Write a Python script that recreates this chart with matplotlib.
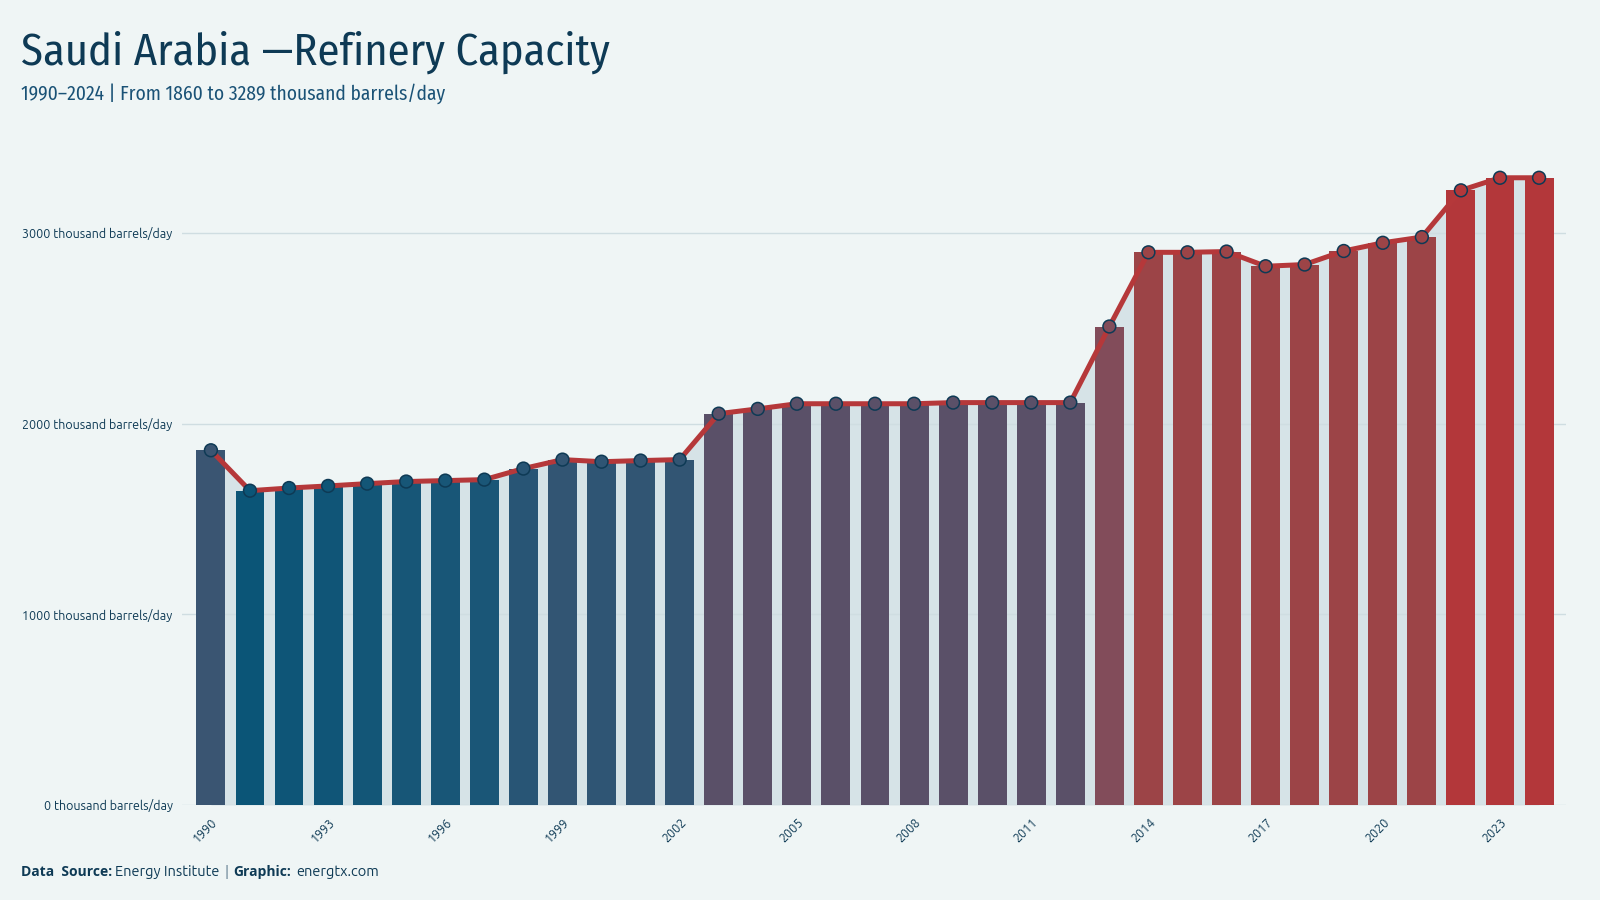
import numpy as np
import matplotlib
matplotlib.use('Agg')
import matplotlib.pyplot as plt
from matplotlib.colors import LinearSegmentedColormap, Normalize

# refinery capacity, thousand barrels/day
years = list(range(1990, 2025))
capacity = [1860, 1648, 1662, 1673, 1685, 1696, 1701, 1706, 1764, 1811,
            1800, 1806, 1811, 2052, 2077, 2104, 2104, 2104, 2104, 2110,
            2110, 2110, 2110, 2509, 2898, 2898, 2902, 2825, 2834, 2905,
            2948, 2978, 3223, 3289, 3289]
yticks = [0, 1000, 2000, 3000]
title = 'Saudi Arabia \u2014Refinery Capacity'
subtitle = '1990\u20132024 | From 1860 to 3289 thousand barrels/day'

bg = '#eff5f5'
navy = '#0e3a55'
red = '#b5383a'
head = ['Fira Sans Condensed', 'DejaVu Sans']
body = ['Ubuntu', 'DejaVu Sans']
bold = ['Open Sans', 'DejaVu Sans']

# value -> colour scale (blue for low, red for high)
lo, hi = min(capacity), max(capacity)
stops = [(1648, '#0b5577'), (1706, '#1a5677'), (1811, '#335573'),
         (1860, '#3a5572'), (2052, '#5a5068'), (2110, '#5a5068'),
         (2509, '#824c5a'), (2825, '#9c4447'), (2978, '#9c4447'),
         (3223, '#b3373a'), (3289, '#b3373a')]
cmap = LinearSegmentedColormap.from_list(
    'cap', [((v - lo) / (hi - lo), c) for v, c in stops])
norm = Normalize(lo, hi)
colors = [cmap(norm(v)) for v in capacity]

fig = plt.figure(figsize=(16, 9), dpi=100, facecolor=bg)
ax = fig.add_axes([0.114, 0.1056, 0.865, 0.731])
ax.set_facecolor(bg)

x = np.arange(len(years))
ax.fill_between(x, 0, capacity, color='#d6e3e7', lw=0, zorder=1)
ax.bar(x, capacity, width=0.74, color=colors, zorder=3)
ax.plot(x, capacity, color=red, lw=3.6, zorder=4, solid_joinstyle='round')
ax.scatter(x, capacity, s=85, c=colors, edgecolors=navy, linewidths=1.1, zorder=5)

ax.set_xlim(-0.73, len(years) - 1 + 0.7)
ax.set_ylim(0, 3450)
ax.set_yticks(yticks)
ax.set_yticklabels([f'{t} thousand barrels/day' for t in yticks])
ax.grid(axis='y', color='#cfdde1', lw=1, zorder=2)
ax.set_axisbelow(False)

ax.set_xticks(x[::3])
ax.set_xticklabels([str(y) for y in years[::3]], rotation=45, ha='right',
                   rotation_mode='anchor')
ax.tick_params(axis='both', length=0, labelcolor=navy, labelsize=9)
ax.tick_params(axis='y', pad=7)
ax.tick_params(axis='x', pad=8)
for lab in ax.get_xticklabels() + ax.get_yticklabels():
    lab.set_family(body)
for s in ax.spines.values():
    s.set_visible(False)

fig.text(0.013, 0.928, title, fontsize=32, color=navy, family=head)
fig.text(0.013, 0.889, subtitle, fontsize=14, color='#1a5276', family=head)

# footer
fy = 0.027
t1 = fig.text(0.013, fy, 'Data  Source:', fontsize=10, color=navy, weight='bold',
              family=bold)
fig.canvas.draw()
r = fig.canvas.get_renderer()
def after(t, gap=3):
    bb = t.get_window_extent(r)
    return (bb.x1 + gap) / fig.bbox.width
t2 = fig.text(after(t1), fy, 'Energy Institute', fontsize=10.5, color=navy,
              family=body)
t3 = fig.text(after(t2), fy, '|', fontsize=10.5, color='#8fa3b0', weight='bold',
              family=bold)
t4 = fig.text(after(t3), fy, 'Graphic:', fontsize=10, color=navy, weight='bold',
              family=bold)
fig.text(after(t4, 5), fy, 'energtx.com', fontsize=10.5, color=navy, family=body)

fig.savefig('out.png', dpi=100, facecolor=bg)
